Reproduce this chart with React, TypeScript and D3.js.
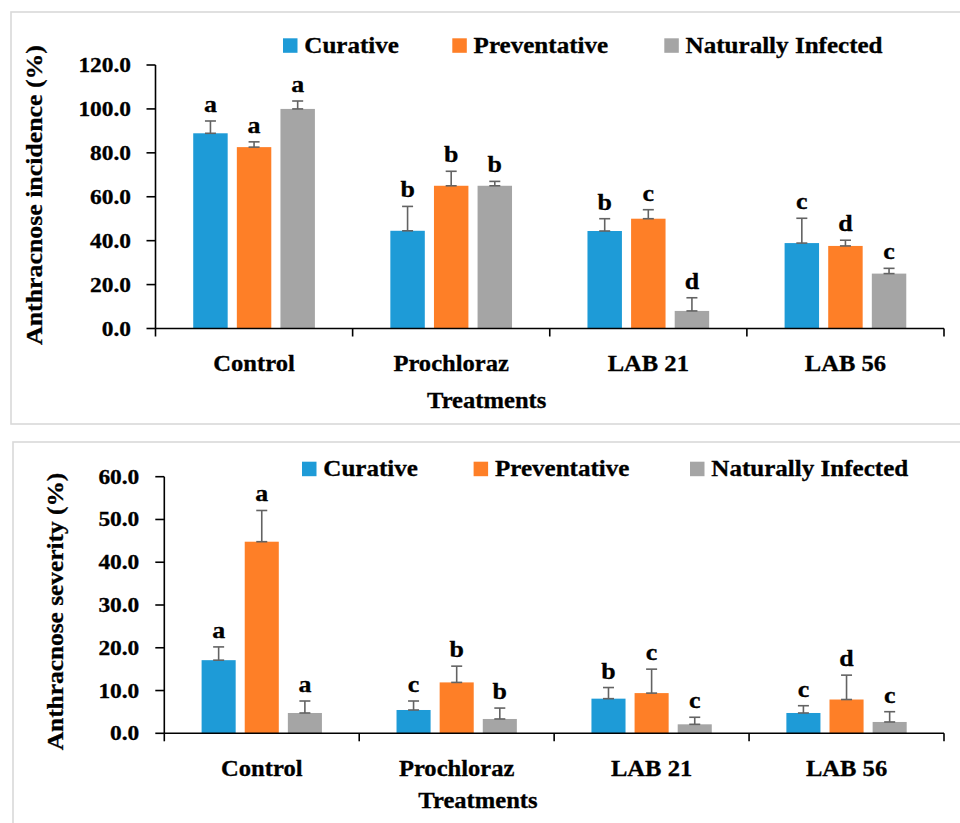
import React from "react";
import * as d3 from "d3";

// ---------- DATA ----------
const categories = ["Control", "Prochloraz", "LAB 21", "LAB 56"];
const seriesNames = ["Curative", "Preventative", "Naturally Infected"];
const seriesColors = ["#1e9bd7", "#fe7f27", "#a5a5a5"];

// Anthracnose incidence (%)
const incidenceCurative = [88.9, 44.5, 44.4, 38.9];
const incidenceCurativeErr = [5.6, 11.1, 5.6, 11.3];
const incidencePreventative = [82.6, 65.0, 50.0, 37.6];
const incidencePreventativeErr = [2.4, 6.6, 4.1, 2.6];
const incidenceNatural = [100.0, 65.0, 8.0, 25.0];
const incidenceNaturalErr = [3.6, 2.0, 6.0, 2.4];
const incidenceLettersCurative = ["a", "b", "b", "c"];
const incidenceLettersPreventative = ["a", "b", "c", "d"];
const incidenceLettersNatural = ["a", "b", "d", "c"];
const incidenceTicks = [0, 20, 40, 60, 80, 100, 120];

// Anthracnose severity (%)
const severityCurative = [17.1, 5.45, 8.1, 4.75];
const severityCurativeErr = [3.1, 2.1, 2.6, 1.7];
const severityPreventative = [44.8, 11.9, 9.4, 7.9];
const severityPreventativeErr = [7.3, 3.8, 5.6, 5.7];
const severityNatural = [4.75, 3.35, 2.1, 2.65];
const severityNaturalErr = [2.8, 2.55, 1.65, 2.4];
const severityLettersCurative = ["a", "c", "b", "c"];
const severityLettersPreventative = ["a", "b", "c", "d"];
const severityLettersNatural = ["a", "b", "c", "c"];
const severityTicks = [0, 10, 20, 30, 40, 50, 60];

const FONT = "'Liberation Serif', 'Times New Roman', serif";

type TProps = {
  x: number;
  y: number;
  size: number;
  sx?: number;
  anchor?: string;
  rotate?: number;
  children: React.ReactNode;
};

function T({ x, y, size, sx = 1.07, anchor = "start", rotate = 0, children }: TProps) {
  return (
    <text
      transform={`translate(${x},${y}) rotate(${rotate}) scale(${sx},1)`}
      textAnchor={anchor}
      fontFamily={FONT}
      fontWeight="bold"
      fontSize={size}
      fill="#000"
      stroke="#000"
      strokeWidth={0.3}
    >
      {children}
    </text>
  );
}

type PanelProps = {
  values: number[][];
  errors: number[][];
  letters: string[][];
  ticks: number[];
  yMax: number;
  x0: number;
  x1: number;
  yTop: number;
  yZero: number;
  yTitle: string;
  yTitleX: number;
  yTitleY: number;
  yTitleSx: number;
  legendX: number[];
  legendY: number;
  catLabelY: number;
  xTitleX: number;
  xTitleY: number;
  tickLabelRight: number;
};

function Panel(p: PanelProps) {
  const x = d3.scaleBand<string>().domain(categories).range([p.x0, p.x1]).paddingInner(0).paddingOuter(0);
  const sub = d3
    .scaleBand<string>()
    .domain(seriesNames)
    .range([0, x.bandwidth()])
    .paddingInner(0.21)
    .paddingOuter(0.865);
  const y = d3.scaleLinear().domain([0, p.yMax]).range([p.yZero, p.yTop]);
  const bw = sub.bandwidth();
  const capW = 11;
  const errColor = "#636363";

  return (
    <g>
      {/* bars */}
      {seriesNames.map((s, si) =>
        categories.map((c, ci) => {
          const v = p.values[si][ci];
          const bx = (x(c) as number) + (sub(s) as number);
          return (
            <rect
              key={`b-${si}-${ci}`}
              x={bx}
              y={y(v)}
              width={bw}
              height={y(0) - y(v)}
              fill={seriesColors[si]}
            />
          );
        })
      )}
      {/* error bars */}
      {seriesNames.map((s, si) =>
        categories.map((c, ci) => {
          const v = p.values[si][ci];
          const e = p.errors[si][ci];
          const cx = (x(c) as number) + (sub(s) as number) + bw / 2;
          return (
            <g key={`e-${si}-${ci}`} stroke={errColor} strokeWidth={1.6}>
              <line x1={cx} x2={cx} y1={y(v)} y2={y(v + e)} />
              <line x1={cx - capW / 2} x2={cx + capW / 2} y1={y(v + e)} y2={y(v + e)} />
              <line x1={cx - capW / 2} x2={cx + capW / 2} y1={y(v)} y2={y(v)} />
            </g>
          );
        })
      )}
      {/* letters */}
      {seriesNames.map((s, si) =>
        categories.map((c, ci) => {
          const v = p.values[si][ci];
          const e = p.errors[si][ci];
          const cx = (x(c) as number) + (sub(s) as number) + bw / 2;
          return (
            <T key={`l-${si}-${ci}`} x={cx} y={y(v + e) - 9} size={24} sx={1.08} anchor="middle">
              {p.letters[si][ci]}
            </T>
          );
        })
      )}
      {/* y axis */}
      <line x1={p.x0} x2={p.x0} y1={y(p.yMax)} y2={y(0)} stroke="#000" strokeWidth={1.6} />
      {p.ticks.map((t) => (
        <g key={`yt-${t}`}>
          <line x1={p.x0 - 9} x2={p.x0} y1={y(t)} y2={y(t)} stroke="#000" strokeWidth={1.6} />
          <T x={p.tickLabelRight} y={y(t) + 7} size={20} sx={1.17} anchor="end">
            {d3.format(".1f")(t)}
          </T>
        </g>
      ))}
      {/* x axis */}
      <line x1={p.x0} x2={p.x1} y1={y(0)} y2={y(0)} stroke="#000" strokeWidth={1.6} />
      {[...categories.map((c) => x(c) as number), p.x1].map((tx, i) => (
        <line key={`xt-${i}`} x1={tx} x2={tx} y1={y(0)} y2={y(0) + 8} stroke="#000" strokeWidth={1.6} />
      ))}
      {categories.map((c) => (
        <T key={`xl-${c}`} x={(x(c) as number) + x.bandwidth() / 2} y={p.catLabelY} size={23} anchor="middle">
          {c}
        </T>
      ))}
      <T x={p.xTitleX} y={p.xTitleY} size={23} anchor="middle">
        Treatments
      </T>
      <T x={p.yTitleX} y={p.yTitleY} size={23.5} sx={p.yTitleSx} anchor="middle" rotate={-90}>
        {p.yTitle}
      </T>
      {/* legend */}
      {seriesNames.map((s, si) => (
        <g key={`lg-${s}`}>
          <rect x={p.legendX[si]} y={p.legendY} width={14.5} height={14.5} fill={seriesColors[si]} />
          <T x={p.legendX[si] + 21.3} y={p.legendY + 14.2} size={23} sx={1.09}>
            {s}
          </T>
        </g>
      ))}
    </g>
  );
}

export default function App() {
  return (
    <svg
      width={960}
      height={823}
      style={{ position: "absolute", left: 0, top: 0, background: "#fff" }}
    >
      <rect x={0} y={0} width={960} height={823} fill="#fff" />
      <rect x={11} y={12} width={970} height={412} fill="none" stroke="#d9d9d9" strokeWidth={1.6} />
      <rect x={13} y={442} width={970} height={420} fill="none" stroke="#d9d9d9" strokeWidth={1.6} />
      <Panel
        values={[incidenceCurative, incidencePreventative, incidenceNatural]}
        errors={[incidenceCurativeErr, incidencePreventativeErr, incidenceNaturalErr]}
        letters={[incidenceLettersCurative, incidenceLettersPreventative, incidenceLettersNatural]}
        ticks={incidenceTicks}
        yMax={120}
        x0={155.5}
        x1={944}
        yTop={65}
        yZero={328.5}
        yTitle="Anthracnose incidence (%)"
        yTitleX={42}
        yTitleY={195}
        yTitleSx={1.1}
        legendX={[283, 452.3, 664.3]}
        legendY={38.3}
        catLabelY={371}
        xTitleX={486.7}
        xTitleY={408}
        tickLabelRight={131}
      />
      <Panel
        values={[severityCurative, severityPreventative, severityNatural]}
        errors={[severityCurativeErr, severityPreventativeErr, severityNaturalErr]}
        letters={[severityLettersCurative, severityLettersPreventative, severityLettersNatural]}
        ticks={severityTicks}
        yMax={60}
        x0={164.3}
        x1={944}
        yTop={476.7}
        yZero={733.3}
        yTitle="Anthracnose severity (%)"
        yTitleX={63}
        yTitleY={611.5}
        yTitleSx={1.08}
        legendX={[302, 473.6, 690]}
        legendY={461.7}
        catLabelY={776}
        xTitleX={478}
        xTitleY={807.7}
        tickLabelRight={139.3}
      />
    </svg>
  );
}
